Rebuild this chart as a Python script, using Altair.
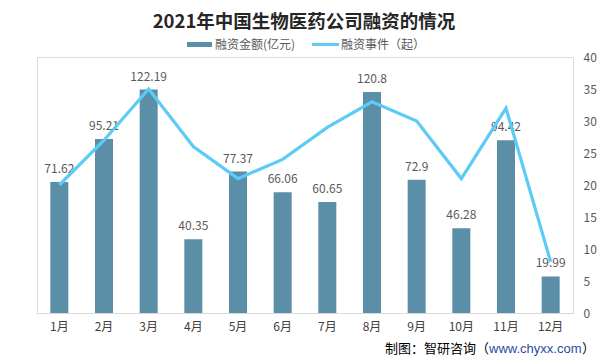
import altair as alt
import pandas as pd

months = ["1月", "2月", "3月", "4月", "5月", "6月", "7月", "8月", "9月", "10月", "11月", "12月"]
amount = [71.62, 95.21, 122.19, 40.35, 77.37, 66.06, 60.65, 120.8, 72.9, 46.28, 94.42, 19.99]
events = [20, 27, 35, 26, 21, 24, 29, 33, 30, 21, 32, 8]
amount_labels = ["71.62", "95.21", "122.19", "40.35", "77.37", "66.06", "60.65", "120.8", "72.9", "46.28", "94.42", "19.99"]

title_text = "2021年中国生物医药公司融资的情况"
legend_bar = "融资金额(亿元)"
legend_line = "融资事件（起）"
footer_a = "制图：智研咨询（"
footer_b = "www.chyxx.com"
footer_c = "）"

BAR = "#5b8fa8"
LINE = "#5ccbf5"
FONT = "Noto Sans CJK SC"
GREY = "#595959"

df = pd.DataFrame({"month": months, "amount": amount, "events": events, "label": amount_labels})

base = alt.Chart(df)
xenc = alt.X("month:N", sort=months,
             scale=alt.Scale(paddingInner=0, paddingOuter=0),
             axis=alt.Axis(title=None, labelAngle=0, ticks=False, domain=True,
                           domainColor="#d9d9d9", labelFontSize=12, labelColor="#404040",
                           labelPadding=8, labelFont=FONT))

bars = base.mark_bar(color=BAR, size=18).encode(
    x=xenc,
    y=alt.Y("amount:Q", scale=alt.Scale(domain=[0, 140]),
            axis=alt.Axis(title=None, values=list(range(0, 141, 20)), grid=True,
                          gridColor="#d9d9d9", domain=False, ticks=False,
                          labelFontSize=12, labelColor=GREY, labelPadding=10, labelFont=FONT)),
)
labels = base.mark_text(baseline="alphabetic", dy=-9, fontSize=12, color=GREY, font=FONT).encode(
    x=alt.X("month:N", sort=months),
    y=alt.Y("amount:Q", scale=alt.Scale(domain=[0, 140]), axis=None),
    text="label:N",
)
left = alt.layer(bars, labels)

line = base.mark_line(color=LINE, strokeWidth=3.2).encode(
    x=alt.X("month:N", sort=months),
    y=alt.Y("events:Q", scale=alt.Scale(domain=[0, 40]),
            axis=alt.Axis(title=None, orient="right", values=list(range(0, 41, 5)), grid=False,
                          domain=False, ticks=False, labelFontSize=12, labelColor=GREY,
                          labelPadding=10, labelFont=FONT)),
)

def txt(s, x, y, size=12, color=GREY, weight="normal", align="left", font=FONT):
    return alt.Chart(pd.DataFrame({"t": [s]})).mark_text(
        fontSize=size, color=color, fontWeight=weight, align=align, baseline="middle", font=font
    ).encode(text="t:N", x=alt.value(x), y=alt.value(y))

title = txt(title_text, 267, -35, size=18.5, color="#262626", weight="bold", align="center")
leg_rect = alt.Chart(pd.DataFrame({"a": [1]})).mark_rect(color=BAR).encode(
    x=alt.value(150), x2=alt.value(175), y=alt.value(-15), y2=alt.value(-10))
leg_line = alt.Chart(pd.DataFrame({"a": [1]})).mark_rule(color=LINE, strokeWidth=3).encode(
    x=alt.value(275), x2=alt.value(302), y=alt.value(-12.5))
leg_t1 = txt(legend_bar, 178, -12.5)
leg_t2 = txt(legend_line, 304, -12.5)
foot1 = txt(footer_a, 452, 292, size=13, color="#000000", align="right")
foot2 = txt(footer_b, 452, 292, size=13, color="#1f4e9c", align="left", font="Liberation Sans")
foot3 = txt(footer_c, 545, 292, size=13, color="#000000", align="left")

chart = alt.layer(left, line, title, leg_rect, leg_line, leg_t1, leg_t2, foot1, foot2, foot3).resolve_scale(
    y="independent"
).properties(
    width=536, height=256,
    autosize=alt.AutoSizeParams(type="none"),
    padding={"left": 29, "top": 49, "right": 25, "bottom": 43},
).configure_view(stroke=None).configure(background="white")

chart.save("out.html", embed_options={"renderer": "svg", "actions": False})
